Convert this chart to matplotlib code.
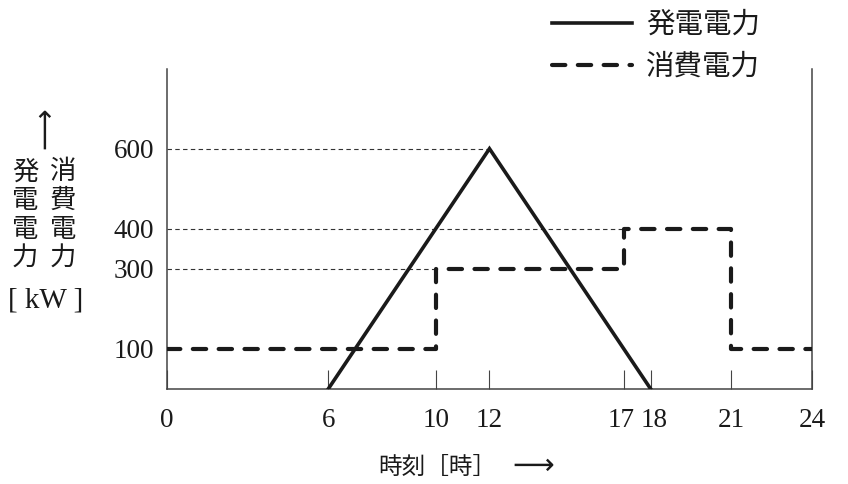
import matplotlib
matplotlib.use("Agg")
import matplotlib.pyplot as plt
from matplotlib.transforms import ScaledTranslation

# Data
gen_t = [6, 12, 18]                 # 発電電力 [時]
gen_p = [0, 600, 0]                 # [kW]
use_t = [0, 10, 17, 21, 24]         # 消費電力 step starts [時]
use_p = [100, 300, 400, 100, 100]   # [kW]
xticks = [0, 6, 10, 12, 17, 18, 21, 24]
yticks = [100, 300, 400, 600]
ref_lines = [(600, 12), (400, 17), (300, 10)]  # guide lines (level, up to time)

jp = ['Noto Sans CJK JP', 'DejaVu Sans']
serif = ['Liberation Serif', 'Noto Sans CJK JP']
ink = '#1a1a1a'

fig = plt.figure(figsize=(8.48, 4.84), dpi=100)
ax = fig.add_axes([0.1969, 0.1963, 0.7606, 0.662])

for level, tend in ref_lines:
    ax.plot([0, tend], [level, level], color='#333333', lw=0.8,
            dashes=(4, 3), zorder=1)

l1, = ax.plot(gen_t, gen_p, color=ink, lw=2.6, solid_joinstyle='miter',
              label='発電電力', zorder=3)
l2, = ax.plot(use_t, use_p, color=ink, lw=3.0, drawstyle='steps-post',
              dashes=(3.2, 3.0), dash_capstyle='round',
              label='消費電力', zorder=3)

ax.set_xlim(0, 24)
ax.set_ylim(0, 800)
ax.set_xticks(xticks)
ax.set_yticks(yticks)
ax.tick_params(axis='x', direction='in', length=13.5, width=0.8,
               color='#444444', pad=14)
ax.tick_params(axis='y', length=0, pad=9)
for lab in ax.get_xticklabels() + ax.get_yticklabels():
    lab.set_family(serif)
    lab.set_fontsize(19.5)
    lab.set_color(ink)

# push the close labels 17 and 18 apart a little
xlabs = ax.get_xticklabels()
for lab, dx in [(xlabs[4], -3), (xlabs[5], 3)]:
    lab.set_transform(lab.get_transform() +
                      ScaledTranslation(dx / 100, 0, fig.dpi_scale_trans))

ax.spines['top'].set_visible(False)
for s in ['left', 'bottom', 'right']:
    ax.spines[s].set_color('#444444')
    ax.spines[s].set_linewidth(1.1)

leg = ax.legend(handles=[l1, l2], loc='upper left',
                bbox_to_anchor=(552 / 848, 1 - 10 / 484),
                bbox_transform=fig.transFigure, frameon=False,
                prop={'family': jp, 'size': 20.5}, handlelength=2.8,
                handletextpad=0.5, labelspacing=0.42, borderaxespad=0,
                borderpad=0)
for t in leg.get_texts():
    t.set_color(ink)

# y label: vertical stacked text
fig.text(25 / 848, 1 - 215 / 484, '発\n電\n電\n力', family=jp, fontsize=19,
         ha='center', va='center', linespacing=1.08, color=ink)
fig.text(63 / 848, 1 - 215 / 484, '消\n費\n電\n力', family=jp, fontsize=19,
         ha='center', va='center', linespacing=1.08, color=ink)
fig.text(45 / 848, 1 - 128 / 484, '⟶', family=['DejaVu Sans'], fontsize=21,
         rotation=90, ha='center', va='center', color=ink)
fig.text(46 / 848, 1 - 300 / 484, '[ kW ]', family=serif, fontsize=21,
         ha='center', va='center', color=ink)

# x label
fig.text(437 / 848, 1 - 467 / 484, '時刻［時］', family=jp, fontsize=17,
         ha='center', va='center', color=ink)
fig.text(533 / 848, 1 - 466 / 484, '⟶', family=['DejaVu Sans'], fontsize=21,
         ha='center', va='center', color=ink)

fig.savefig('out.png', dpi=100)
